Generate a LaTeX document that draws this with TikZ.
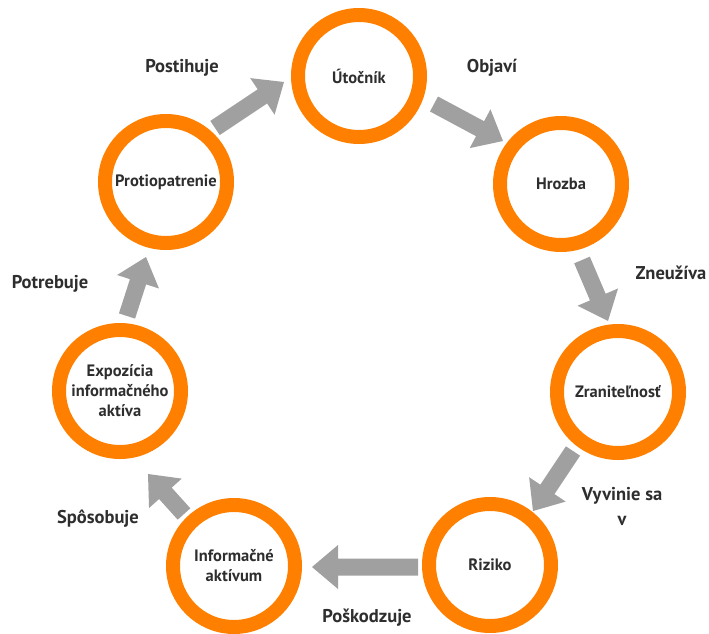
\documentclass[tikz,border=0pt]{standalone}
\usepackage{fontspec}
\setmainfont{PT Sans}
\usetikzlibrary{calc}
\definecolor{ringorange}{HTML}{FF8000}
\definecolor{arrowgray}{HTML}{A0A0A0}
\definecolor{txtcol}{HTML}{2E2E2E}
\newcommand\blockarrow[2]{%
  \path ($(#2)!26pt!(#1)$) coordinate (hb);
  \fill[arrowgray] ($(#1)!8.5pt!90:(#2)$) -- ($(hb)!8.5pt!90:(#2)$) -- ($(hb)!22pt!90:(#2)$) -- (#2)
    -- ($(hb)!22pt!-90:(#2)$) -- ($(hb)!8.5pt!-90:(#2)$) -- ($(#1)!8.5pt!-90:(#2)$) -- cycle;}
\begin{document}
\begin{tikzpicture}[x=1pt,y=-1pt,
  ring/.style={circle, draw=ringorange, line width=14pt, minimum size=122pt, inner sep=0pt,
    align=center, text=txtcol, font=\fontsize{16.5}{20}\selectfont\bfseries},
  lbl/.style={text=txtcol, align=center, inner sep=0pt, font=\fontsize{18.5}{25}\selectfont\bfseries}]
\useasboundingbox (0,0) rectangle (709,634);
% rings
\node[ring] (utoc) at (359,76) {Útočník};
\node[ring] (hroz) at (561,184) {Hrozba};
\node[ring] (zran) at (618,392) {Zraniteľnosť};
\node[ring] (riz) at (490,565) {Riziko};
\node[ring] (info) at (234,566) {Informačné\\aktívum};
\node[ring] (expo) at (120,391) {Expozícia\\informačného\\aktíva};
\node[ring] (prot) at (166,182) {Protiopatrenie};
% arrow ends
\coordinate (a1s) at (215,128); \coordinate (a1e) at (284,82);
\coordinate (a2s) at (434,104); \coordinate (a2e) at (503,141);
\coordinate (a3s) at (582,260); \coordinate (a3e) at (608,321);
\coordinate (a4s) at (573,451); \coordinate (a4e) at (533,511);
\coordinate (a5s) at (418,567); \coordinate (a5e) at (312,567);
\coordinate (a6s) at (184,514); \coordinate (a6e) at (148,474);
\coordinate (a7s) at (127,316); \coordinate (a7e) at (146,257);
\blockarrow{a1s}{a1e}
\blockarrow{a2s}{a2e}
\blockarrow{a3s}{a3e}
\blockarrow{a4s}{a4e}
\blockarrow{a5s}{a5e}
\blockarrow{a6s}{a6e}
\blockarrow{a7s}{a7e}
% labels
\node[lbl] (l1) at (182,68) {Postihuje};
\node[lbl] (l2) at (492,68) {Objaví};
\node[lbl] (l3) at (671,273) {Zneužíva};
\node[lbl] (l4) at (622,506) {Vyvinie sa\\v};
\node[lbl] (l5) at (367,618) {Poškodzuje};
\node[lbl] (l6) at (98,519) {Spôsobuje};
\node[lbl] (l7) at (50,284) {Potrebuje};
\end{tikzpicture}
\end{document}
